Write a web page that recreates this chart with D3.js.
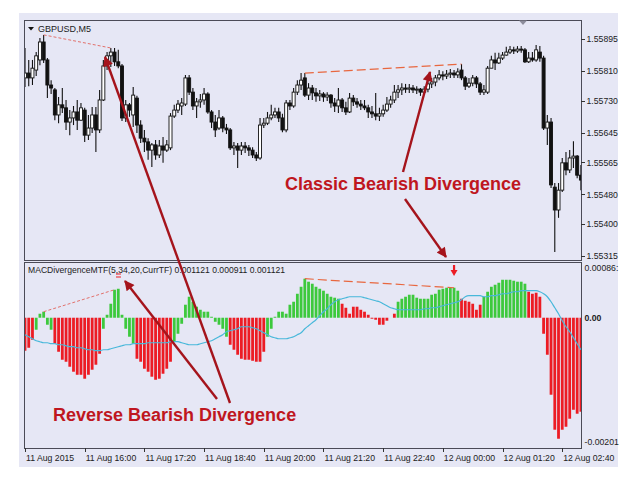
<!DOCTYPE html>
<html><head><meta charset="utf-8">
<script src="https://cdn.jsdelivr.net/npm/d3@7"></script>
<style>
body{margin:0;background:#fff;}
svg{display:block;font-family:"Liberation Sans",Arial,sans-serif;}
</style></head><body>
<svg id="c" width="640" height="490"></svg>
<script>
// ---------------- DATA ----------------
const symbol = "GBPUSD,M5";
const indicatorLabel = "MACDivergenceMTF(5,34,20,CurrTF) 0.001121 0.000911 0.001121";
const barCount = 150; // 5-minute bars, 11 Aug 2015 14:40 -> 12 Aug 03:05
const timeTickBars = [0,16,32,48,64,80,96,112,128,144];
const timeTickLabels = ["11 Aug 2015","11 Aug 16:00","11 Aug 17:20","11 Aug 18:40","11 Aug 20:00","11 Aug 21:20","11 Aug 22:40","12 Aug 00:00","12 Aug 01:20","12 Aug 02:40"];
const priceTicks = [1.55895,1.55810,1.55730,1.55645,1.55565,1.55480,1.55400,1.55315];
const priceTickLabels = ["1.55895","1.55810","1.55730","1.55645","1.55565","1.55480","1.55400","1.55315"];
const macdMax = 0.00086, macdMin = -0.00201;
const macdTickLabels = ["0.00086:","0.00","-0.00201"];

const open = [1.55791,1.55804,1.55791,1.55812,1.55839,1.55887,1.55839,1.55772,1.55759,1.55692,
1.55719,1.55711,1.55673,1.55684,1.55700,1.55678,1.55705,1.55638,1.55657,1.55692,
1.55652,1.55732,1.55823,1.55850,1.55860,1.55834,1.55823,1.55684,1.55719,1.55692,
1.55737,1.55665,1.55630,1.55620,1.55598,1.55612,1.55585,1.55609,1.55598,1.55604,
1.55689,1.55705,1.55716,1.55721,1.55791,1.55753,1.55716,1.55727,1.55732,1.55748,
1.55700,1.55673,1.55657,1.55684,1.55657,1.55652,1.55604,1.55609,1.55598,1.55609,
1.55604,1.55598,1.55585,1.55577,1.55665,1.55670,1.55684,1.55692,1.55700,1.55684,
1.55652,1.55724,1.55716,1.55753,1.55772,1.55791,1.55745,1.55764,1.55751,1.55743,
1.55748,1.55740,1.55745,1.55724,1.55716,1.55732,1.55711,1.55700,1.55737,1.55727,
1.55721,1.55716,1.55711,1.55700,1.55695,1.55689,1.55695,1.55705,1.55721,1.55732,
1.55753,1.55759,1.55764,1.55761,1.55764,1.55759,1.55761,1.55753,1.55761,1.55775,
1.55780,1.55791,1.55799,1.55796,1.55801,1.55804,1.55799,1.55812,1.55791,1.55769,
1.55777,1.55791,1.55775,1.55753,1.55753,1.55817,1.55839,1.55831,1.55844,1.55852,
1.55860,1.55866,1.55863,1.55868,1.55866,1.55834,1.55844,1.55839,1.55860,1.55844,
1.55657,1.55673,1.55499,1.55438,1.55491,1.55564,1.55545,1.55577,1.55582,1.55531];

const high = [1.55871,1.55839,1.55839,1.55860,1.55898,1.55906,1.55844,1.55785,1.55764,1.55740,
1.55764,1.55732,1.55705,1.55716,1.55732,1.55724,1.55711,1.55692,1.55713,1.55713,
1.55759,1.55839,1.55860,1.55871,1.55871,1.55866,1.55828,1.55732,1.55724,1.55767,
1.55743,1.55678,1.55652,1.55630,1.55617,1.55625,1.55625,1.55633,1.55625,1.55697,
1.55719,1.55732,1.55737,1.55799,1.55799,1.55764,1.55737,1.55748,1.55764,1.55753,
1.55705,1.55692,1.55705,1.55689,1.55668,1.55657,1.55620,1.55617,1.55620,1.55620,
1.55612,1.55606,1.55593,1.55684,1.55684,1.55700,1.55719,1.55711,1.55711,1.55695,
1.55732,1.55732,1.55764,1.55785,1.55804,1.55804,1.55777,1.55772,1.55764,1.55759,
1.55753,1.55753,1.55748,1.55737,1.55764,1.55737,1.55727,1.55751,1.55745,1.55737,
1.55732,1.55732,1.55719,1.55716,1.55751,1.55711,1.55719,1.55740,1.55743,1.55772,
1.55772,1.55777,1.55775,1.55775,1.55772,1.55769,1.55764,1.55769,1.55785,1.55791,
1.55799,1.55812,1.55809,1.55812,1.55815,1.55812,1.55817,1.55828,1.55796,1.55791,
1.55799,1.55796,1.55780,1.55772,1.55823,1.55850,1.55858,1.55858,1.55860,1.55874,
1.55876,1.55874,1.55876,1.55876,1.55871,1.55860,1.55860,1.55879,1.55876,1.55850,
1.55692,1.55684,1.55510,1.55510,1.55577,1.55593,1.55598,1.55622,1.55585,1.55558];

const low = [1.55767,1.55769,1.55772,1.55796,1.55825,1.55831,1.55737,1.55748,1.55678,1.55670,
1.55697,1.55652,1.55638,1.55665,1.55652,1.55676,1.55620,1.55625,1.55644,1.55593,
1.55644,1.55729,1.55812,1.55820,1.55823,1.55817,1.55676,1.55673,1.55687,1.55660,
1.55644,1.55617,1.55593,1.55572,1.55553,1.55572,1.55577,1.55564,1.55593,1.55598,
1.55684,1.55697,1.55692,1.55716,1.55745,1.55705,1.55684,1.55711,1.55719,1.55695,
1.55657,1.55633,1.55652,1.55646,1.55641,1.55598,1.55585,1.55550,1.55585,1.55590,
1.55582,1.55577,1.55569,1.55572,1.55657,1.55665,1.55678,1.55684,1.55673,1.55646,
1.55646,1.55705,1.55711,1.55745,1.55759,1.55740,1.55732,1.55732,1.55727,1.55729,
1.55727,1.55729,1.55711,1.55700,1.55697,1.55700,1.55692,1.55697,1.55716,1.55711,
1.55705,1.55705,1.55684,1.55684,1.55678,1.55676,1.55687,1.55700,1.55711,1.55724,
1.55737,1.55745,1.55751,1.55751,1.55751,1.55748,1.55743,1.55745,1.55753,1.55764,
1.55769,1.55785,1.55785,1.55788,1.55791,1.55791,1.55791,1.55785,1.55759,1.55764,
1.55769,1.55764,1.55745,1.55745,1.55748,1.55817,1.55812,1.55828,1.55839,1.55850,
1.55855,1.55855,1.55858,1.55858,1.55831,1.55831,1.55834,1.55834,1.55834,1.55652,
1.55612,1.55497,1.55326,1.55417,1.55486,1.55531,1.55537,1.55550,1.55523,1.55491];

const close = [1.55804,1.55791,1.55817,1.55850,1.55887,1.55839,1.55772,1.55764,1.55692,1.55719,
1.55711,1.55673,1.55684,1.55700,1.55678,1.55711,1.55638,1.55657,1.55692,1.55652,
1.55732,1.55823,1.55850,1.55860,1.55834,1.55823,1.55684,1.55719,1.55705,1.55745,
1.55665,1.55630,1.55620,1.55598,1.55612,1.55585,1.55609,1.55598,1.55612,1.55689,
1.55705,1.55721,1.55724,1.55791,1.55753,1.55716,1.55727,1.55732,1.55748,1.55700,
1.55673,1.55652,1.55684,1.55657,1.55652,1.55604,1.55609,1.55598,1.55609,1.55604,
1.55598,1.55585,1.55577,1.55665,1.55670,1.55684,1.55692,1.55700,1.55684,1.55652,
1.55724,1.55716,1.55753,1.55772,1.55785,1.55745,1.55764,1.55751,1.55743,1.55748,
1.55740,1.55745,1.55724,1.55716,1.55732,1.55711,1.55700,1.55737,1.55727,1.55721,
1.55716,1.55711,1.55700,1.55695,1.55689,1.55695,1.55705,1.55721,1.55732,1.55753,
1.55759,1.55764,1.55761,1.55764,1.55759,1.55761,1.55753,1.55761,1.55775,1.55780,
1.55791,1.55799,1.55796,1.55801,1.55804,1.55799,1.55807,1.55791,1.55769,1.55777,
1.55791,1.55775,1.55753,1.55759,1.55817,1.55839,1.55831,1.55844,1.55852,1.55860,
1.55866,1.55863,1.55868,1.55866,1.55834,1.55844,1.55839,1.55866,1.55844,1.55657,
1.55673,1.55505,1.55438,1.55491,1.55564,1.55545,1.55577,1.55582,1.55531,1.55518];

const macdHist = [-0.000509,-0.000463,-0.000340,-0.000185,0.000062,0.000093,-0.000108,-0.000185,-0.000401,-0.000525,
-0.000648,-0.000679,-0.000756,-0.000833,-0.000880,-0.000880,-0.000941,-0.000880,-0.000802,-0.000725,
-0.000556,-0.000170,0.000046,0.000216,0.000432,0.000447,0.000046,-0.000170,-0.000293,-0.000401,
-0.000633,-0.000679,-0.000787,-0.000833,-0.000910,-0.000957,-0.000941,-0.000864,-0.000787,-0.000679,
-0.000370,-0.000247,-0.000093,0.000201,0.000324,0.000247,0.000170,0.000123,0.000093,0.000093,
0.000015,-0.000062,-0.000108,-0.000170,-0.000293,-0.000417,-0.000494,-0.000571,-0.000633,-0.000648,
-0.000648,-0.000664,-0.000679,-0.000679,-0.000525,-0.000293,-0.000170,0.000015,0.000093,0.000093,
0.000062,0.000201,0.000247,0.000370,0.000478,0.000602,0.000556,0.000525,0.000478,0.000447,
0.000417,0.000370,0.000324,0.000309,0.000293,0.000216,0.000154,0.000062,0.000170,0.000170,
0.000123,0.000093,0.000046,-0.000015,-0.000031,-0.000108,-0.000108,-0.000046,0.000000,0.000062,
0.000247,0.000293,0.000324,0.000355,0.000355,0.000309,0.000293,0.000293,0.000293,0.000355,
0.000370,0.000432,0.000447,0.000463,0.000463,0.000463,0.000417,0.000293,0.000262,0.000247,
0.000216,0.000123,0.000201,0.000324,0.000401,0.000478,0.000509,0.000540,0.000586,0.000586,
0.000586,0.000571,0.000556,0.000556,0.000525,0.000401,0.000370,0.000386,0.000324,-0.000247,
-0.000571,-0.001188,-0.001728,-0.001867,-0.001728,-0.001682,-0.001558,-0.001420,-0.001481,-0.001450];

// bar state: "up" = green (rising), "dn" = red (falling)
const histState = ("dn dn dn up up up up up dn dn dn dn dn dn dn dn dn dn dn dn dn up up up up up up up up up " +
"dn dn dn dn dn dn dn dn dn dn up up up up up up up up up up up up up up up dn dn dn dn dn " +
"dn dn dn dn dn up up up up up up up up up up up up up up up up up up up up dn dn dn dn dn " +
"dn dn dn dn dn dn dn dn dn dn up up up up up up up up up up up up up up up up up dn dn dn " +
"dn dn dn up up up up up up up up up up up up dn dn dn dn dn dn dn dn dn dn dn dn dn dn dn").split(" ");

const macdSignal = [-0.000262,-0.000293,-0.000324,-0.000355,-0.000370,-0.000386,-0.000386,-0.000401,-0.000401,-0.000417,
-0.000417,-0.000432,-0.000447,-0.000447,-0.000463,-0.000463,-0.000478,-0.000494,-0.000494,-0.000509,
-0.000509,-0.000494,-0.000494,-0.000478,-0.000463,-0.000447,-0.000432,-0.000417,-0.000417,-0.000401,
-0.000401,-0.000401,-0.000401,-0.000386,-0.000386,-0.000386,-0.000386,-0.000386,-0.000386,-0.000370,
-0.000370,-0.000370,-0.000386,-0.000401,-0.000417,-0.000417,-0.000417,-0.000401,-0.000386,-0.000370,
-0.000355,-0.000324,-0.000293,-0.000262,-0.000216,-0.000201,-0.000185,-0.000170,-0.000139,-0.000139,
-0.000139,-0.000154,-0.000170,-0.000201,-0.000231,-0.000262,-0.000293,-0.000309,-0.000324,-0.000324,
-0.000324,-0.000309,-0.000293,-0.000262,-0.000231,-0.000170,-0.000123,-0.000077,-0.000031,0.000031,
0.000093,0.000139,0.000201,0.000247,0.000278,0.000293,0.000309,0.000324,0.000324,0.000324,
0.000324,0.000309,0.000293,0.000278,0.000262,0.000247,0.000216,0.000185,0.000154,0.000139,
0.000123,0.000123,0.000123,0.000123,0.000123,0.000123,0.000123,0.000139,0.000139,0.000154,
0.000154,0.000170,0.000185,0.000201,0.000216,0.000231,0.000247,0.000278,0.000324,0.000340,
0.000340,0.000340,0.000340,0.000324,0.000324,0.000340,0.000340,0.000355,0.000370,0.000370,
0.000386,0.000401,0.000401,0.000417,0.000417,0.000417,0.000417,0.000417,0.000401,0.000370,
0.000324,0.000247,0.000154,0.000062,-0.000046,-0.000139,-0.000216,-0.000309,-0.000401,-0.000494];

// divergence pairs (bar indices)
const reverseDivBars = [5, 23];
const reverseDivHistBars = [5, 24];
const classicDivBars = [75, 117];
const classicDivHistBars = [75, 115];

// ---------------- LAYOUT ----------------
const svg = d3.select("#c");
const L = 24, R = 581, PT = 20, PB = 260, IT = 262, IB = 448;
const bgCol = "#e6e7f5", frameCol = "#4b4b57";
const green = "#3dc93d", red = "#ec1c24", sigCol = "#48b8da";
const annoCol = "#a5141c", annoText = "#bf1620";

svg.append("rect").attr("width",640).attr("height",490).attr("fill","#fff");
svg.append("rect").attr("x",19).attr("y",13).attr("width",599).attr("height",454).attr("fill",bgCol);

const idx = d3.range(barCount);
const x = d3.scaleLinear().domain([0, barCount-1]).range([25, 580.9]);
const yP = d3.scaleLinear().domain([1.55315, 1.55895]).range([256, 39]);
const yM = d3.scaleLinear().domain([macdMin, macdMax]).range([IB, IT]);
function snapBar(px){ return Math.round(x.invert(px)); }

const defs = svg.append("defs");
defs.append("clipPath").attr("id","cp").append("rect").attr("x",L).attr("y",PT).attr("width",R-L).attr("height",PB-PT);
defs.append("clipPath").attr("id","ci").append("rect").attr("x",L).attr("y",IT).attr("width",R-L).attr("height",IB-IT);
defs.append("marker").attr("id","ah").attr("viewBox","0 0 10 10").attr("refX",9).attr("refY",5)
  .attr("markerWidth",5).attr("markerHeight",4.2).attr("orient","auto").attr("markerUnits","strokeWidth")
  .append("path").attr("d","M0,0 L10,5 L0,10 Z").attr("fill",annoCol);

// ---------------- PRICE PANEL ----------------
const gp = svg.append("g").attr("clip-path","url(#cp)");
gp.selectAll("line.w").data(idx).join("line")
  .attr("x1",i=>x(i)).attr("x2",i=>x(i))
  .attr("y1",i=>yP(high[i])).attr("y2",i=>yP(low[i]))
  .attr("stroke","#111").attr("stroke-width",1.1);
gp.selectAll("rect.b").data(idx).join("rect")
  .attr("x",i=>x(i)-1.5).attr("width",3)
  .attr("y",i=>yP(Math.max(open[i],close[i])))
  .attr("height",i=>Math.max(1,Math.abs(yP(open[i])-yP(close[i]))))
  .attr("fill",i=>close[i]>=open[i]?"#fff":"#111")
  .attr("stroke","#111").attr("stroke-width",0.9);

// divergence dashed lines on price
gp.append("line")
  .attr("x1",x(reverseDivBars[0])).attr("y1",yP(high[reverseDivBars[0]]))
  .attr("x2",x(reverseDivBars[1])).attr("y2",yP(high[reverseDivBars[1]]))
  .attr("stroke","#e2716c").attr("stroke-width",1).attr("stroke-dasharray","3,2");
gp.append("line")
  .attr("x1",x(classicDivBars[0])).attr("y1",yP(high[classicDivBars[0]]))
  .attr("x2",x(classicDivBars[1])).attr("y2",yP(high[classicDivBars[1]]))
  .attr("stroke","#e8673f").attr("stroke-width",1.2).attr("stroke-dasharray","9,4");

svg.append("rect").attr("x",L+0.5).attr("y",PT+0.5).attr("width",R-L).attr("height",PB-PT)
  .attr("fill","none").attr("stroke",frameCol).attr("stroke-width",1);

// symbol label
svg.append("path").attr("d","M28,27 L34,27 L31,30.5 Z").attr("fill","#111");
svg.append("text").attr("x",38).attr("y",32).attr("font-size",9).attr("fill","#222").text(symbol);
// shift marker
svg.append("path").attr("d","M519,20.5 L527,20.5 L523,25 Z").attr("fill","#8d8d9c");

// price axis
svg.selectAll("line.pt").data(priceTicks).join("line")
  .attr("x1",R).attr("x2",R+4).attr("y1",d=>Math.round(yP(d))+0.5).attr("y2",d=>Math.round(yP(d))+0.5)
  .attr("stroke","#333");
svg.selectAll("text.pt").data(priceTicks).join("text")
  .attr("x",R+5.5).attr("y",d=>yP(d)+3.3).attr("font-size",8.7).attr("fill","#222")
  .text((d,i)=>priceTickLabels[i]);

// ---------------- INDICATOR PANEL ----------------
const gi = svg.append("g").attr("clip-path","url(#ci)");
gi.selectAll("rect.h").data(idx).join("rect")
  .attr("x",i=>x(i)-1.4).attr("width",2.8)
  .attr("y",i=>Math.min(yM(0),yM(macdHist[i])))
  .attr("height",i=>Math.abs(yM(macdHist[i])-yM(0)))
  .attr("fill",i=>histState[i]==="up"?green:red);
gi.append("path").datum(idx)
  .attr("d",d3.line().x(i=>x(i)).y(i=>yM(macdSignal[i])).curve(d3.curveMonotoneX))
  .attr("fill","none").attr("stroke",sigCol).attr("stroke-width",1.2);
gi.append("line")
  .attr("x1",x(reverseDivHistBars[0])).attr("y1",yM(macdHist[reverseDivHistBars[0]]))
  .attr("x2",x(reverseDivHistBars[1])).attr("y2",yM(macdHist[reverseDivHistBars[1]]))
  .attr("stroke","#e2716c").attr("stroke-width",1).attr("stroke-dasharray","3,2");
gi.append("line")
  .attr("x1",x(classicDivHistBars[0])).attr("y1",yM(macdHist[classicDivHistBars[0]]))
  .attr("x2",x(classicDivHistBars[1])).attr("y2",yM(macdHist[classicDivHistBars[1]]))
  .attr("stroke","#e8673f").attr("stroke-width",1.2).attr("stroke-dasharray","9,4");

svg.append("rect").attr("x",L+0.5).attr("y",IT+0.5).attr("width",R-L).attr("height",IB-IT)
  .attr("fill","none").attr("stroke",frameCol).attr("stroke-width",1);

svg.append("text").attr("x",28).attr("y",273).attr("font-size",8.6).attr("fill","#222").text(indicatorLabel);

// small red signal marks
const mk = svg.append("g").attr("fill",red).attr("stroke",red);
const mx = x(snapBar(455));
mk.append("path").attr("d",`M${mx},265 v7`).attr("stroke-width",2.2).attr("fill","none");
mk.append("path").attr("d",`M${mx-3.5},270 L${mx+3.5},270 L${mx},276 Z`).attr("stroke","none");
mk.append("path").attr("d","M116,274 h5 M116,277 h5").attr("stroke-width",1.2).attr("fill","none");

// macd axis labels
const mLab = [{v:macdMax,dy:9},{v:0,dy:3.3},{v:macdMin,dy:-3}];
svg.selectAll("text.mt").data(mLab).join("text")
  .attr("x",R+3.5).attr("y",d=>yM(d.v)+d.dy).attr("font-size",8.7).attr("fill","#222")
  .attr("font-weight",(d,i)=>i===1?"bold":"normal")
  .text((d,i)=>macdTickLabels[i]);

// time axis
svg.selectAll("line.tt").data(timeTickBars).join("line")
  .attr("x1",i=>Math.round(x(i))+0.5).attr("x2",i=>Math.round(x(i))+0.5)
  .attr("y1",IB).attr("y2",IB+4).attr("stroke","#333");
svg.selectAll("text.tt").data(timeTickBars).join("text")
  .attr("x",i=>x(i)+1).attr("y",461).attr("font-size",8.7).attr("fill","#222")
  .text((d,i)=>timeTickLabels[i]);

// ---------------- ANNOTATIONS ----------------
const ann = svg.append("g");
const arrows = [
  {x1:403,y1:172,x2:430,y2:72},
  {x1:405,y1:199,x2:446,y2:257},
  {x1:230,y1:403,x2:105,y2:57},
  {x1:217,y1:399,x2:125,y2:281}
];
ann.selectAll("line.a").data(arrows).join("line")
  .attr("x1",d=>d.x1).attr("y1",d=>d.y1).attr("x2",d=>d.x2).attr("y2",d=>d.y2)
  .attr("stroke",annoCol).attr("stroke-width",2.4).attr("marker-end","url(#ah)");
ann.append("text").attr("x",285).attr("y",190).attr("font-size",18).attr("font-weight","bold")
  .attr("fill",annoText).text("Classic Bearish Divergence");
ann.append("text").attr("x",53).attr("y",420.5).attr("font-size",18).attr("font-weight","bold")
  .attr("fill",annoText).text("Reverse Bearish Divergence");
</script>
</body></html>
